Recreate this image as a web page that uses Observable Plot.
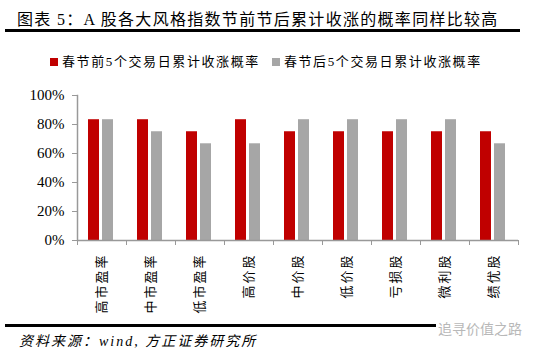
<!DOCTYPE html>
<html><head><meta charset="utf-8">
<script src="https://cdn.jsdelivr.net/npm/d3@7"></script>
<script src="https://cdn.jsdelivr.net/npm/@observablehq/plot@0.6"></script>
<style>
body{margin:0;background:#fff;}
#c{position:relative;width:550px;height:354px;overflow:hidden;font-family:"Liberation Serif","Noto Sans CJK SC",serif;color:#000;}
#title{position:absolute;left:17px;top:10px;font-size:16px;line-height:20px;letter-spacing:1.3px;white-space:nowrap;}
#tline{position:absolute;left:5px;top:29px;width:515px;height:3px;background:#000;}
#legend{position:absolute;left:50px;top:53px;font-size:13px;line-height:18px;white-space:nowrap;letter-spacing:1.6px;}
#legend span.item{display:inline-block;margin-right:12px;}
#legend span.sw{display:inline-block;width:8px;height:8px;margin-right:4px;vertical-align:0px;}
#plot{position:absolute;left:0;top:85px;}
#bline{position:absolute;left:5px;top:324px;width:515px;height:3px;background:#000;}
#cap{position:absolute;left:19px;top:333px;font-size:14px;line-height:18px;font-style:italic;white-space:nowrap;letter-spacing:2px;}
#wm{position:absolute;left:436px;top:319px;font-size:14px;line-height:18px;color:#b8b8b8;background:#fff;padding:0 2px;white-space:nowrap;font-family:"Noto Sans CJK SC",sans-serif;}
g[aria-label="x-axis tick label"] text{letter-spacing:2px;}
</style></head><body><div id="c">
<div id="title">图表 5：A 股各大风格指数节前节后累计收涨的概率同样比较高</div>
<div id="tline"></div>
<div id="legend"></div>
<div id="plot"></div>
<div id="bline"></div>
<div id="cap">资料来源：wind, 方正证券研究所</div>
<div id="wm">追寻价值之路</div>
</div>
<script>
const categories = ["高市盈率","中市盈率","低市盈率","高价股","中价股","低价股","亏损股","微利股","绩优股"];
const seriesNames = ["春节前5个交易日累计收涨概率","春节后5个交易日累计收涨概率"];
const before = [83.3, 83.3, 75, 83.3, 75, 75, 75, 75, 75];
const after = [83.3, 75, 66.7, 66.7, 83.3, 83.3, 83.3, 83.3, 66.7];
const yTicks = [0, 20, 40, 60, 80, 100];
const colors = ["#C00000", "#A6A6A6"];

const legend = document.getElementById("legend");
seriesNames.forEach((n, i) => {
  const it = document.createElement("span");
  it.className = "item";
  const sw = document.createElement("span");
  sw.className = "sw";
  sw.style.background = colors[i];
  it.appendChild(sw);
  it.appendChild(document.createTextNode(n));
  legend.appendChild(it);
});

const rows = categories.map((c, i) => ({cat: c, before: before[i], after: after[i]}));
const font = '"Liberation Serif","Noto Sans CJK SC",serif';
const chart = Plot.plot({
  width: 550, height: 230,
  marginTop: 10, marginBottom: 75, marginLeft: 77, marginRight: 32,
  style: {fontFamily: font, fontSize: "14px", color: "#000", background: "transparent"},
  x: {domain: categories, padding: 0, axis: null, label: null},
  y: {domain: [0, 100], axis: null, label: null},
  marks: [
    Plot.barY(rows, {x: "cat", y: "before", fill: colors[0], insetLeft: 11, insetRight: 27}),
    Plot.barY(rows, {x: "cat", y: "after", fill: colors[1], insetLeft: 25, insetRight: 13}),
    Plot.axisY({ticks: yTicks, tickFormat: d => d + "%", tickSize: 5, tickPadding: 8, stroke: "#999", fill: "#000", fontSize: 15, label: null}),
    Plot.axisX({tickSize: 5, tickFormat: () => "", dx: -24.5, stroke: "#999", label: null}),
    Plot.axisX({ticks: [categories[categories.length - 1]], tickSize: 5, tickFormat: () => "", dx: 24.5, stroke: "#999", label: null}),
    Plot.axisX({tickSize: 0, tickRotate: -90, tickPadding: 13, fontSize: 13, fill: "#000", label: null}),
    Plot.ruleY([0], {stroke: "#999", strokeWidth: 1.5}),
    Plot.frame({anchor: "left", stroke: "#999", strokeWidth: 1.5})
  ]
});
document.getElementById("plot").appendChild(chart);
</script>
</body></html>
